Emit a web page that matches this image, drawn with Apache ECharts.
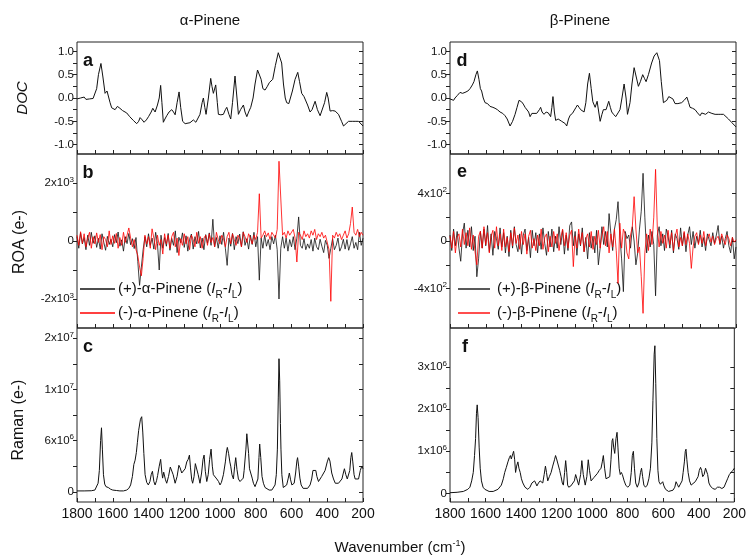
<!DOCTYPE html>
<html><head><meta charset="utf-8">
<script src="https://cdn.jsdelivr.net/npm/echarts@6/dist/echarts.min.js"></script>
<style>html,body{margin:0;padding:0;background:#fff}#c{width:749px;height:556px}</style>
</head><body><div id="c"></div><script>
// ---------- DATA ----------
const docAlphaWn = [1800,1790,1780,1770,1760,1750,1740,1730,1720,1710,1700,1690,1680,1666,1655,1643,1632,1625,1615,1606,1595,1587,1574,1560,1545,1522,1505,1485,1466,1455,1447,1435,1425,1412,1400,1385,1376,1363,1350,1340,1332,1325,1317,1308,1298,1285,1270,1260,1251,1240,1229,1220,1209,1195,1186,1168,1149,1135,1125,1112,1100,1093,1085,1078,1065,1052,1045,1037,1024,1015,1009,995,981,970,962,950,940,930,916,905,897,885,869,860,850,840,828,815,804,790,780,770,760,748,735,724,705,690,674,665,655,645,635,627,615,608,595,580,565,555,543,530,524,510,496,485,468,455,440,431,415,403,395,384,370,356,337,320,309,295,281,260,244,225,215,205,200];
const docAlphaVal = [-0.02,-0.03,0.0,-0.04,0.02,-0.03,0.01,-0.02,0.0,-0.01,0.02,0.2,0.5,0.74,0.45,0.1,0.15,0.12,-0.1,-0.21,-0.23,-0.25,-0.18,-0.22,-0.27,-0.32,-0.4,-0.48,-0.55,-0.5,-0.42,-0.47,-0.52,-0.47,-0.4,-0.3,-0.22,-0.3,-0.15,0.0,0.27,-0.1,-0.52,-0.45,-0.38,-0.3,-0.25,-0.3,-0.36,-0.1,0.13,-0.2,-0.5,-0.55,-0.56,-0.53,-0.47,-0.52,-0.48,-0.35,-0.1,0.0,-0.2,-0.35,0.0,0.42,0.25,0.1,0.28,-0.1,-0.35,-0.36,-0.35,-0.25,-0.2,-0.35,-0.45,-0.1,0.47,0.0,-0.35,-0.25,-0.15,-0.3,-0.4,-0.3,-0.2,0.0,0.3,0.6,0.63,0.4,0.2,0.17,0.25,0.33,0.4,0.7,0.97,0.95,0.75,0.3,0.0,-0.1,-0.12,-0.08,0.15,0.4,0.55,0.35,0.1,0.03,0.0,-0.15,-0.3,-0.25,-0.07,-0.25,-0.38,-0.4,-0.1,0.12,0.0,-0.28,-0.27,-0.28,-0.35,-0.5,-0.6,-0.55,-0.5,-0.5,-0.5,-0.5,-0.52,-0.58,-0.6];

const docBetaWn = [1800,1790,1780,1772,1760,1744,1730,1716,1700,1688,1675,1666,1655,1647,1638,1630,1623,1614,1604,1590,1576,1560,1548,1535,1520,1505,1492,1480,1464,1450,1436,1425,1414,1400,1390,1380,1371,1360,1352,1342,1334,1315,1300,1293,1285,1274,1262,1250,1237,1230,1224,1216,1209,1195,1184,1175,1166,1155,1147,1137,1128,1115,1106,1095,1087,1078,1069,1060,1050,1040,1030,1020,1010,1001,988,977,968,960,950,942,927,912,903,895,885,873,860,849,838,826,815,807,793,782,770,758,746,735,722,712,703,690,672,658,643,628,618,606,597,587,576,565,553,541,525,504,490,475,465,457,443,429,415,401,392,382,370,354,335,317,300,285,270,256,242,225,210,200];
const docBetaVal = [-0.02,0.0,-0.05,0.0,0.05,0.12,0.1,0.12,0.15,0.2,0.28,0.35,0.5,0.58,0.4,0.2,0.15,0.0,-0.1,-0.12,-0.18,-0.2,-0.22,-0.25,-0.3,-0.33,-0.38,-0.45,-0.6,-0.5,-0.35,-0.2,-0.05,-0.08,-0.13,-0.2,-0.18,-0.3,-0.4,-0.33,-0.33,-0.33,-0.25,-0.2,-0.3,-0.35,-0.3,-0.32,-0.4,-0.2,0.03,-0.3,-0.48,-0.45,-0.45,-0.5,-0.48,-0.55,-0.6,-0.45,-0.37,-0.33,-0.3,-0.2,-0.15,-0.2,-0.25,-0.28,-0.3,-0.1,0.3,0.53,0.2,-0.08,-0.2,-0.07,-0.3,-0.5,-0.35,-0.25,-0.25,-0.07,-0.2,-0.3,-0.35,-0.4,-0.32,-0.25,0.0,0.3,0.0,-0.35,-0.1,0.3,0.65,0.45,0.25,0.35,0.5,0.42,0.35,0.5,0.75,0.9,0.97,0.8,0.35,-0.1,-0.08,-0.05,0.03,0.07,-0.02,-0.12,-0.12,-0.1,-0.05,0.02,-0.1,-0.2,-0.22,-0.25,-0.32,-0.38,-0.32,-0.3,-0.35,-0.3,-0.33,-0.35,-0.35,-0.35,-0.35,-0.4,-0.45,-0.52,-0.58,-0.62];

const roaWn = [1800,1790,1780,1770,1760,1750,1740,1730,1720,1710,1700,1690,1680,1670,1660,1650,1640,1630,1620,1610,1600,1590,1580,1570,1560,1550,1540,1530,1520,1510,1500,1490,1480,1470,1460,1450,1440,1430,1420,1410,1400,1390,1380,1370,1360,1350,1340,1330,1320,1310,1300,1290,1280,1270,1260,1250,1240,1230,1220,1210,1200,1190,1180,1170,1160,1150,1140,1130,1120,1110,1100,1090,1080,1070,1060,1050,1040,1030,1020,1010,1000,990,980,970,960,950,940,930,920,910,900,890,880,870,860,850,840,830,820,810,800,790,780,770,760,750,740,730,720,710,700,690,680,670,660,650,640,630,620,610,600,590,580,570,560,550,540,530,520,510,500,490,480,470,460,450,440,430,420,410,400,390,380,370,360,350,340,330,320,310,300,290,280,270,260,250,240,230,220,210,200];
const roaAlphaPlus = [150,-250,280,-100,120,-300,200,-150,300,-80, 180,-220,90,-280,250,-50,-320,160,-120,60, -200,220,-60,310,-180,40,-350,150,-90,260, -130,80,-260,120,-700,-1530,-900,-300,150,-200, 250,-150,100,-280,300,-90,-1000,200,-250,120, -180,260,-320,90,-150,350,-400,130,-60,280, -220,180,-350,60,240,-280,150,-100,330,-240, 100,-300,220,-80,280,-150,750,-200,120,-250, 180,-120,300,-250,-840,100,-180,260,-300,150, -90,240,-200,320,-150,80,-280,200,-120,300, -200,150,-1350,100,-250,200,-180,50,-300,150, -100,200,-300,-2000,-250,150,-250,100,-350,50, -200,150,-300,100,830,-150,-250,80,-300,-100, -250,50,-350,100,-200,-300,60,-180,-400,20, -150,-600,-250,80,-300,-150,100,-350,-200,60, -280,50,-320,-100,150,-250,-50,-300,300,-150, 100];
const roaAlphaMinus = [200,-150,320,-80,250,-200,100,300,-250,150, -100,280,-50,220,-300,150,50,-200,350,-120, 180,-80,260,-250,120,-150,300,-50,200,450, 100,-200,50,-300,-500,-900,-1200,-600,200,-100, 150,-250,420,100,-300,200,-150,50,-450,250, -100,200,-250,150,300,-200,100,-500,80,-150, 250,-100,150,-300,200,50,-200,300,-80,150, -250,100,200,-150,250,-50,120,-200,300,50, -100,200,80,-200,150,300,-100,250,50,-150, 200,100,-200,300,150,-50,250,100,-100,200, 50,300,1630,100,200,350,150,280,50,300, 250,100,400,2750,2700,200,300,100,350,200, 150,400,100,-725,300,200,50,350,150,250, 100,350,200,400,50,250,150,300,100,200, 150,-300,-2080,200,100,300,150,250,50,200, 350,100,250,600,1170,300,200,400,150,300, 200];
const roaBetaPlus = [50,-80,100,-40,80,-60,-170,60,150,-60, 90,-50,120,-80,40,-300,-150,80,-60,100, -40,130,-90,60,-120,80,20,-70,110,-50, 70,-100,40,-130,90,-60,120,-30,-90,60, -110,50,100,-80,30,-140,90,-40,70,-100, 60,-70,110,-20,-120,80,-50,100,-90,40, -60,120,-30,90,-110,50,-80,130,160,-40, 80,-120,60,-40,110,-90,30,-150,70,-60, 40,-100,90,-200,-60,120,-30,80,-50,230, 60,-80,100,180,330,50,-150,-425,80,20, 50,-60,120,0,-200,-100,100,250,568,200, -100,50,-50,80,-30,-460,50,120,-40,60, -80,100,40,-60,90,-100,60,20,-70,110, -40,70,-90,50,120,-30,80,-60,40,-20, 90,-50,30,-80,60,10,-40,70,-20,50, 130,-30,40,-60,20,80,-40,-100,30,-150, -50];
const roaBetaMinus = [40,-60,80,-100,30,60,-50,100,-30,70, -40,110,-70,50,-90,-200,40,80,-60,120, -30,70,-100,40,90,-60,120,-40,60,-80, 100,-50,30,-90,70,-40,110,-20,50,-70, 80,-30,60,-110,40,90,-60,20,-80,50, -40,100,-70,30,60,-90,40,-50,80,-20, 60,-80,30,100,-40,70,-60,50,90,-215, 40,-60,100,-30,70,-90,20,60,-50,80, -70,40,-30,90,-60,50,120,-40,80,-100, 60,-50,100,-80,-355,150,-60,100,60,-100, -150,50,120,372,100,-100,-50,-300,-607,-100, 60,-80,100,-30,200,601,100,-50,80,-20, 50,-60,90,-30,70,-80,40,100,-50,30, -40,80,-30,60,-20,-230,-50,40,70,-30, 50,-20,80,-40,30,60,-10,40,-30,20, 40,-20,60,10,-30,50,20,-40,30,-10, 10];

const ramanAlphaWn = [1800,1760,1720,1700,1690,1682,1675,1668,1663,1658,1652,1645,1638,1625,1612,1600,1580,1560,1540,1522,1510,1500,1490,1482,1475,1468,1462,1455,1445,1438,1432,1426,1419,1410,1401,1392,1385,1378,1370,1363,1355,1349,1340,1332,1325,1321,1315,1311,1305,1298,1288,1278,1270,1262,1251,1240,1230,1223,1214,1205,1195,1186,1178,1171,1165,1158,1153,1145,1138,1130,1122,1112,1103,1095,1089,1082,1074,1066,1058,1050,1043,1037,1030,1018,1008,1000,992,981,970,963,959,952,945,940,933,925,918,912,905,897,888,878,870,865,855,850,846,840,835,828,820,813,804,794,788,782,778,772,765,757,748,738,725,710,700,692,685,679,674,670,666,662,659,654,646,638,627,618,612,605,598,593,585,577,570,566,560,553,546,535,524,510,496,487,480,472,464,458,449,440,431,420,412,400,392,385,375,365,355,347,337,328,318,310,304,296,288,281,274,268,263,257,250,244,235,225,215,207,200];
const ramanAlphaVal = [0.1,0.1,0.12,0.2,0.35,1.0,2.5,6.0,7.5,5.0,2.0,0.9,0.6,0.5,0.3,0.2,0.15,0.1,0.1,0.2,0.4,0.8,1.8,3.2,3.7,4.6,5.8,7.2,8.5,8.8,7.0,4.5,2.0,1.1,0.8,1.2,2.0,2.4,1.2,0.8,1.3,1.9,3.0,3.8,2.2,1.6,2.3,2.2,1.4,1.0,1.8,2.9,3.1,2.0,1.0,1.8,3.1,2.8,2.2,2.0,2.7,3.5,3.8,4.3,2.8,1.4,1.0,1.8,3.3,3.5,2.0,1.0,2.2,3.8,4.3,2.4,1.2,2.0,3.8,5.0,3.0,2.0,1.8,1.5,1.2,0.8,1.1,2.0,3.5,4.8,5.2,4.5,3.5,3.0,2.0,1.5,3.0,4.0,2.6,1.5,1.2,1.0,1.6,2.5,5.0,6.8,7.0,4.5,2.7,2.6,1.6,1.0,0.6,0.5,1.5,4.0,5.6,4.0,1.8,1.0,0.5,0.3,0.2,0.2,0.4,0.8,2.0,5.0,11.0,15.6,13.0,8.0,5.0,2.0,0.5,0.5,0.8,1.6,2.2,1.4,0.8,0.6,1.0,2.2,3.6,4.0,3.0,1.6,0.8,0.4,0.3,0.4,0.8,1.5,2.5,2.5,2.5,1.8,1.2,1.3,1.8,2.0,2.5,3.5,4.0,3.6,2.2,1.5,1.0,0.8,1.0,1.2,1.5,2.2,2.7,2.0,1.5,1.5,2.5,4.0,4.6,3.5,2.0,1.5,1.3,1.5,2.5,3.0,2.7];

const ramanBetaWn = [1800,1760,1725,1700,1688,1678,1669,1662,1656,1651,1647,1642,1636,1630,1623,1614,1604,1580,1557,1530,1511,1500,1492,1483,1474,1466,1460,1455,1451,1446,1442,1436,1431,1425,1418,1412,1405,1398,1390,1378,1362,1350,1339,1330,1324,1318,1311,1302,1293,1285,1278,1270,1263,1257,1250,1241,1231,1222,1212,1206,1200,1195,1190,1183,1175,1168,1162,1155,1149,1143,1138,1132,1120,1113,1100,1093,1086,1076,1065,1058,1050,1039,1030,1022,1015,1006,1001,990,979,970,960,950,943,937,930,922,912,901,894,888,884,879,873,866,860,855,848,842,836,830,820,811,800,788,780,774,768,762,755,746,737,728,722,716,709,700,690,681,672,664,658,651,647,642,636,630,624,616,610,603,596,587,570,559,545,535,528,521,513,504,494,488,481,476,472,467,460,452,443,432,420,412,404,397,390,384,378,370,362,356,350,343,335,322,308,295,283,270,258,248,238,228,218,208,200];
const ramanBetaVal = [0.02,0.03,0.05,0.1,0.15,0.3,0.5,0.9,1.3,1.9,2.1,1.8,1.1,0.6,0.3,0.15,0.1,0.05,0.05,0.1,0.2,0.35,0.5,0.62,0.75,0.85,0.9,0.82,0.85,0.95,1.0,0.8,0.5,0.65,0.75,0.6,0.5,0.35,0.25,0.15,0.1,0.15,0.25,0.22,0.3,0.25,0.18,0.25,0.3,0.28,0.25,0.45,0.65,0.5,0.3,0.4,0.5,0.65,0.8,0.9,0.82,0.85,0.8,0.55,0.4,0.25,0.2,0.5,0.78,0.5,0.2,0.15,0.18,0.2,0.3,0.45,0.35,0.2,0.45,0.78,0.45,0.2,0.4,0.8,0.55,0.3,0.28,0.38,0.4,0.48,0.55,0.6,0.75,0.9,0.6,0.35,0.35,0.4,0.8,1.25,1.3,1.1,0.95,1.3,1.45,1.1,0.6,0.45,0.5,0.45,0.3,0.2,0.15,0.2,0.5,0.9,1.0,0.6,0.25,0.15,0.25,0.5,0.6,0.4,0.2,0.15,0.2,0.35,0.6,1.2,2.2,3.3,3.5,2.6,1.3,0.55,0.28,0.22,0.25,0.28,0.18,0.1,0.05,0.05,0.08,0.15,0.28,0.22,0.15,0.15,0.3,0.5,0.75,1.0,1.05,0.8,0.5,0.3,0.2,0.2,0.28,0.3,0.4,0.55,0.62,0.55,0.4,0.45,0.6,0.6,0.45,0.25,0.18,0.12,0.1,0.15,0.15,0.12,0.15,0.25,0.35,0.45,0.5,0.55,0.6];

const xTickLabels = [1800,1600,1400,1200,1000,800,600,400,200];
const docTicks = [-1.0,-0.5,0.0,0.5,1.0];
const roaAlphaTicks = [-2000,0,2000];
const roaBetaTicks = [-400,0,400];
const ramanAlphaTicks = [0,6e6,1.2e7,1.8e7];
const ramanBetaTicks = [0,1e6,2e6,3e6];
const seriesNames = ['(+)-α-Pinene','(-)-α-Pinene','(+)-β-Pinene','(-)-β-Pinene'];

// ---------- BUILD ----------
const pair = (xs, ys, k) => xs.map((x, i) => [x, ys[i] * (k || 1)]);
const FONT = '"Liberation Sans", Arial, sans-serif';
const BLACK = '#111', RED = '#ff0000';
const colX = [77, 450], W = 286;
const rowTop = [42, 154, 328], rowH = [112, 174, 174];

function sci(v) {
  if (v === 0) return '0';
  const e = Math.floor(Math.log10(Math.abs(v)) + 1e-9);
  const m = Math.round(v / Math.pow(10, e));
  return m + 'x10{sup|' + e + '}';
}
function minorOf(ticks) {
  const out = [];
  for (let i = 0; i < ticks.length; i++) {
    out.push(ticks[i]);
    if (i < ticks.length - 1) out.push((ticks[i] + ticks[i + 1]) / 2);
  }
  return out;
}
const panels = [
  {col:0,row:0,min:-1.2,max:1.2,ticks:docTicks,fmt:v=>v.toFixed(1)},
  {col:0,row:1,min:-3000,max:3000,ticks:roaAlphaTicks,fmt:sci},
  {col:0,row:2,min:-1.2e6,max:1.92e7,ticks:ramanAlphaTicks,fmt:sci},
  {col:1,row:0,min:-1.2,max:1.2,ticks:docTicks,fmt:v=>v.toFixed(1)},
  {col:1,row:1,min:-730,max:730,ticks:roaBetaTicks,fmt:sci},
  {col:1,row:2,min:-0.2e6,max:3.92e6,ticks:ramanBetaTicks,fmt:sci}
];
const grid = [], xAxis = [], yAxis = [];
panels.forEach((p, i) => {
  grid.push({left: colX[p.col], top: rowTop[p.row], width: W, height: rowH[p.row],
    show: true, borderColor: '#222', borderWidth: 1, backgroundColor: 'transparent'});
  xAxis.push({gridIndex: i, type: 'value', min: 200, max: 1800, interval: 200, inverse: true,
    position: 'bottom',
    axisLine: {show: false, onZero: false},
    axisTick: {show: true, inside: true, length: 4, lineStyle: {color: '#222'}},
    minorTick: {show: true, splitNumber: 2, length: 4, lineStyle: {color: '#222'}},
    splitLine: {show: false},
    axisLabel: {show: p.row === 2, fontSize: 14, fontFamily: FONT, color: '#111', margin: 5,
      customValues: xTickLabels, formatter: v => String(v)}});
});
panels.forEach((p, i) => {
  yAxis.push({gridIndex: i, type: 'value', min: p.min, max: p.max, position: 'left',
    axisLine: {show: false, onZero: false}, splitLine: {show: false},
    axisTick: {show: true, inside: false, length: 4, customValues: minorOf(p.ticks), lineStyle: {color: '#222'}},
    axisLabel: {show: true, customValues: p.ticks, formatter: p.fmt, fontSize: 11.5, fontFamily: FONT,
      color: '#111', margin: 3,
      rich: {sup: {fontSize: 8, fontFamily: FONT, color: '#111', verticalAlign: 'top', padding: [0, 0, 7, 0]}}}});
});
panels.forEach((p, i) => {
  yAxis.push({gridIndex: i, type: 'value', min: p.min, max: p.max, position: 'right',
    axisLine: {show: false, onZero: false}, splitLine: {show: false},
    axisTick: {show: true, inside: true, length: 4, customValues: minorOf(p.ticks), lineStyle: {color: '#222'}},
    axisLabel: {show: false}});
});
const mk = (name, idx, data, color, w) => ({name, type: 'line', xAxisIndex: idx, yAxisIndex: idx, data,
  showSymbol: false, symbol: 'none', color, lineStyle: {color, width: w}, itemStyle: {color}, animation: false, silent: true});
const series = [
  mk('docA', 0, pair(docAlphaWn, docAlphaVal), BLACK, 1),
  mk(seriesNames[0], 1, pair(roaWn, roaAlphaPlus), BLACK, 0.8),
  mk(seriesNames[1], 1, pair(roaWn, roaAlphaMinus), RED, 0.8),
  mk('ramanA', 2, pair(ramanAlphaWn, ramanAlphaVal, 1e6), BLACK, 1),
  mk('docB', 3, pair(docBetaWn, docBetaVal), BLACK, 1),
  mk(seriesNames[2], 4, pair(roaWn, roaBetaPlus), BLACK, 0.8),
  mk(seriesNames[3], 4, pair(roaWn, roaBetaMinus), RED, 0.8),
  mk('ramanB', 5, pair(ramanBetaWn, ramanBetaVal, 1e6), BLACK, 1)
];
const legRich = {
  t: {fontSize: 15, fontFamily: FONT, fill: '#111'},
  i: {fontSize: 15, fontFamily: FONT, fontStyle: 'italic', fill: '#111'},
  s: {fontSize: 10, fontFamily: FONT, fill: '#111', verticalAlign: 'bottom', padding: [0, 0, -4, 0]}
};
const legRow = (name, color, x0, x1, tx, y) => [
  {type: 'line', silent: true, z: 10, shape: {x1: x0, y1: y, x2: x1, y2: y}, style: {stroke: color, lineWidth: 1.4}},
  {type: 'text', x: tx, y: y, silent: true, style: {text: '{t|' + name + ' (}{i|I}{s|R}{t|-}{i|I}{s|L}{t|)}',
    rich: legRich, align: 'left', verticalAlign: 'middle', font: '15px ' + FONT, fill: '#111'}}
];
const txt = (text, x, y, font, extra) => Object.assign({type: 'text', x, y, silent: true,
  style: Object.assign({text, font, fill: '#111', align: 'center', verticalAlign: 'middle'}, (extra || {}).style || {})},
  (extra || {}).el || {});
const graphic = [
  txt('α-Pinene', 210, 21, '15px ' + FONT),
  txt('β-Pinene', 580, 21, '15px ' + FONT),
  txt('DOC', 23, 98, 'italic 15px ' + FONT, {el: {rotation: Math.PI / 2}}),
  txt('ROA (e-)', 20, 242, '16px ' + FONT, {el: {rotation: Math.PI / 2}}),
  txt('Raman (e-)', 19, 420, '16px ' + FONT, {el: {rotation: Math.PI / 2}}),
  txt('a', 88, 61, 'bold 18px ' + FONT),
  txt('b', 88, 173, 'bold 18px ' + FONT),
  txt('c', 88, 347, 'bold 18px ' + FONT),
  txt('d', 462, 61, 'bold 18px ' + FONT),
  txt('e', 462, 172, 'bold 18px ' + FONT),
  txt('f', 465, 347, 'bold 18px ' + FONT),
  ...legRow(seriesNames[0], BLACK, 80, 115, 118, 289),
  ...legRow(seriesNames[1], RED, 80, 115, 118, 313),
  ...legRow(seriesNames[2], BLACK, 458, 490, 497, 289),
  ...legRow(seriesNames[3], RED, 458, 490, 497, 313),
  {type: 'text', x: 400, y: 548, silent: true, style: {text: 'Wavenumber (cm{sup|-1})', font: '15px ' + FONT, fill: '#111',
    align: 'center', verticalAlign: 'middle',
    rich: {sup: {fontSize: 9, fontFamily: FONT, fill: '#111', verticalAlign: 'top', padding: [0, 0, 8, 0]}}}}
];
const chart = echarts.init(document.getElementById('c'), null, {renderer: 'canvas'});
chart.setOption({animation: false, backgroundColor: '#fff', grid, xAxis, yAxis, series, graphic});
</script></body></html>
